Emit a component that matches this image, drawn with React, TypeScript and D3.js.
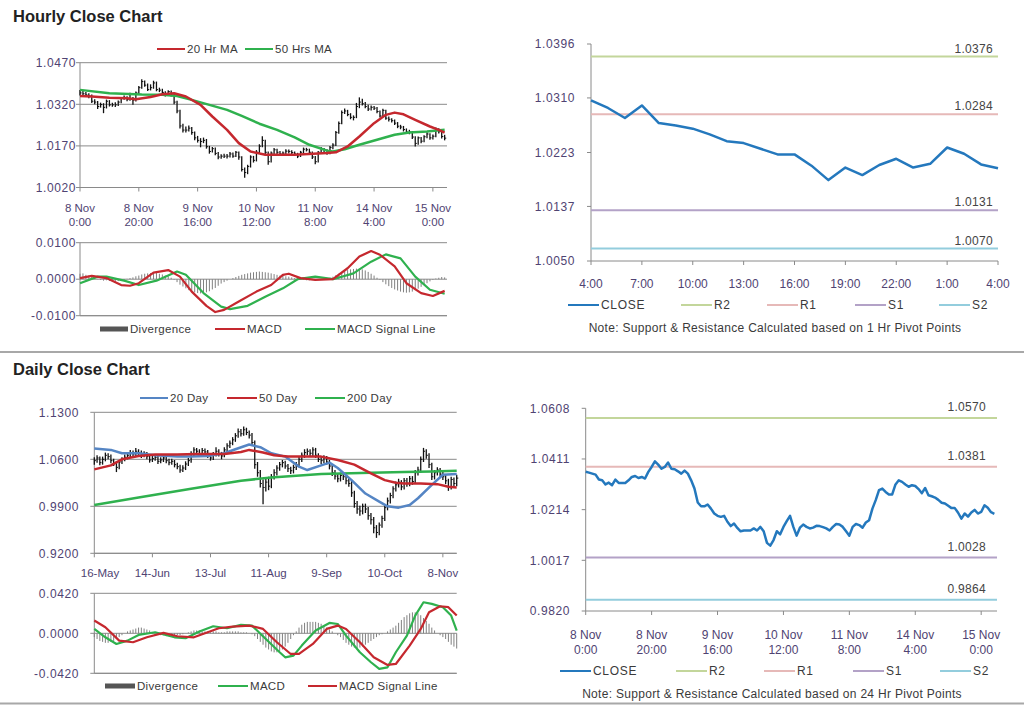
import React from "react";
import * as d3 from "d3";

// ---------------- DATA ----------------
const hourlyClose = [
  1.0361, 1.0358, 1.0354, 1.035, 1.0331, 1.0328, 1.0312, 1.0319, 1.0309, 1.0331,
  1.0318, 1.0318, 1.0318, 1.0328, 1.0341, 1.0345, 1.0337, 1.0341, 1.0335, 1.0361,
  1.038, 1.0402, 1.0389, 1.0373, 1.038, 1.0397, 1.0373, 1.0371, 1.0363, 1.0354,
  1.0366, 1.0354, 1.0328, 1.0296, 1.0242, 1.0227, 1.0227, 1.0234, 1.0218, 1.0199,
  1.019, 1.0186, 1.019, 1.0167, 1.015, 1.016, 1.0143, 1.013, 1.0133, 1.0133,
  1.0133, 1.0141, 1.0133, 1.0147, 1.013, 1.0085, 1.0074, 1.0096, 1.013, 1.0118,
  1.0147, 1.0169, 1.019, 1.0147, 1.0113, 1.0144, 1.0156, 1.0147, 1.0141, 1.0144,
  1.0151, 1.015, 1.0146, 1.0141, 1.0133, 1.0147, 1.0158, 1.0156, 1.0147, 1.013,
  1.0113, 1.0147, 1.0158, 1.0154, 1.0144, 1.0164, 1.0173, 1.0218, 1.0251, 1.029,
  1.0296, 1.0283, 1.0273, 1.0273, 1.0312, 1.0328, 1.0322, 1.0312, 1.0303, 1.0309,
  1.0306, 1.0294, 1.0278, 1.0298, 1.027, 1.0266, 1.0261, 1.0252, 1.0241, 1.0238,
  1.0229, 1.022, 1.022, 1.0202, 1.0179, 1.0199, 1.0187, 1.0203, 1.0213, 1.0199,
  1.0205, 1.0231, 1.0221, 1.0204, 1.0198,
];
const hourlyHigh = [
  1.0372, 1.0368, 1.0364, 1.036, 1.0355, 1.0338, 1.0332, 1.0326, 1.0324, 1.0337,
  1.0335, 1.0326, 1.0327, 1.0334, 1.0346, 1.0352, 1.0349, 1.0362, 1.0346, 1.0366,
  1.0386, 1.041, 1.0406, 1.0395, 1.0392, 1.0405, 1.0402, 1.038, 1.0376, 1.0367,
  1.0371, 1.037, 1.0358, 1.0333, 1.03, 1.025, 1.024, 1.0244, 1.0238, 1.0222,
  1.0206, 1.0198, 1.02, 1.0195, 1.017, 1.0166, 1.0164, 1.0148, 1.014, 1.0142,
  1.0141, 1.0148, 1.0146, 1.0152, 1.015, 1.0133, 1.0092, 1.0102, 1.0136, 1.0134,
  1.0155, 1.0176, 1.0205, 1.0192, 1.015, 1.015, 1.0162, 1.016, 1.0152, 1.015,
  1.0158, 1.0157, 1.0154, 1.015, 1.0145, 1.0152, 1.0164, 1.0163, 1.016, 1.015,
  1.0134, 1.0152, 1.0166, 1.0162, 1.0158, 1.017, 1.018, 1.0224, 1.0258, 1.0298,
  1.0305, 1.03, 1.0288, 1.028, 1.0325, 1.0345, 1.034, 1.0328, 1.0318, 1.0316,
  1.0314, 1.031, 1.0298, 1.0304, 1.03, 1.0276, 1.027, 1.0265, 1.0256, 1.0246,
  1.0242, 1.0233, 1.0228, 1.0224, 1.0205, 1.0204, 1.0202, 1.0208, 1.0219, 1.0216,
  1.0211, 1.0236, 1.0234, 1.0225, 1.021,
];
const hourlyLow = [
  1.0352, 1.035, 1.0347, 1.0342, 1.0325, 1.032, 1.0303, 1.0308, 1.0288, 1.0305,
  1.0312, 1.0311, 1.031, 1.0314, 1.0324, 1.0336, 1.0331, 1.0333, 1.0318, 1.033,
  1.0356, 1.0376, 1.0383, 1.0368, 1.037, 1.0376, 1.0367, 1.0364, 1.0357, 1.0348,
  1.035, 1.0348, 1.032, 1.0288, 1.0233, 1.0218, 1.0218, 1.0222, 1.021, 1.019,
  1.0182, 1.0165, 1.018, 1.016, 1.0142, 1.0146, 1.0136, 1.0122, 1.0124, 1.0126,
  1.0125, 1.0128, 1.0127, 1.013, 1.012, 1.0078, 1.0055, 1.0068, 1.0092, 1.011,
  1.0114, 1.0142, 1.0165, 1.014, 1.0102, 1.011, 1.014, 1.0141, 1.0135, 1.0136,
  1.014, 1.0143, 1.014, 1.0135, 1.0126, 1.013, 1.0144, 1.015, 1.0141, 1.0123,
  1.0104, 1.011, 1.0143, 1.0148, 1.0138, 1.014, 1.0158, 1.017, 1.0214, 1.0248,
  1.0285, 1.0277, 1.0266, 1.0262, 1.027, 1.0306, 1.0316, 1.0306, 1.0296, 1.0298,
  1.0299, 1.0288, 1.0272, 1.0275, 1.0264, 1.0258, 1.0254, 1.0245, 1.0234, 1.023,
  1.0222, 1.0213, 1.0212, 1.0195, 1.0168, 1.0174, 1.018, 1.0183, 1.0198, 1.0192,
  1.0193, 1.0201, 1.0215, 1.0197, 1.019,
];
// [bar index, value]
const hourlyMA20 = [
  [0, 1.035], [4, 1.0348], [10, 1.0344], [16, 1.0342], [19, 1.0338], [24, 1.0346],
  [28, 1.0356], [32, 1.036], [36, 1.0348], [41, 1.0318], [45, 1.0276], [50, 1.0228],
  [54, 1.018], [58, 1.015], [63, 1.0138], [73, 1.0138], [84, 1.0144], [87, 1.0147],
  [91, 1.0168], [95, 1.0204], [100, 1.0252], [104, 1.0282], [107, 1.029], [110, 1.0284],
  [114, 1.0264], [119, 1.024], [122, 1.0228], [124, 1.0218],
];
const hourlyMA50 = [
  [0, 1.0372], [10, 1.036], [21, 1.0355], [28, 1.0354], [33, 1.035], [38, 1.0336],
  [44, 1.0318], [50, 1.03], [55, 1.0278], [61, 1.025], [67, 1.0228], [73, 1.0201],
  [78, 1.0174], [84, 1.0153], [86, 1.015], [90, 1.0158], [95, 1.0174], [101, 1.0192],
  [107, 1.021], [112, 1.0218], [118, 1.0222], [124, 1.0228],
];
const hourlyMACD = [
  [0, 0.0003], [4, 0.0009], [9, 0.0003], [14, -0.0016], [17, -0.0018], [20, -0.0011],
  [25, 0.0018], [30, 0.0025], [34, 0.0007], [38, -0.0034], [43, -0.0073], [46, -0.009],
  [49, -0.0084], [54, -0.0061], [60, -0.0034], [65, -0.0016], [69, 0.0012], [71, 0.0015],
  [75, 0.0003], [80, -0.0002], [86, 0.0], [91, 0.003], [95, 0.0062], [99, 0.0077],
  [102, 0.0067], [107, 0.0035], [111, -0.0011], [116, -0.0038], [120, -0.0046], [124, -0.0032],
];
const hourlySignal = [
  [0, -0.0011], [6, 0.0007], [9, 0.0007], [15, -0.0004], [20, -0.0016], [26, -0.0004],
  [33, 0.0021], [36, 0.0012], [42, -0.0038], [48, -0.0075], [51, -0.0082], [57, -0.0073],
  [63, -0.0048], [69, -0.0025], [74, 0.0], [80, 0.0007], [86, 0.0], [93, 0.0016],
  [99, 0.0048], [104, 0.0068], [109, 0.0057], [114, 0.0007], [119, -0.0029], [124, -0.004],
];
const hourlyDivergence = [
  0.0015, 0.0016, 0.0012, 0.001, 0.0006, 0.0003, 0.0001, -0.0002, -0.0004, -0.0003,
  -0.0005, -0.0006, -0.0007, -0.0005, -0.0003, -0.0002, 0.0001, 0.0003, 0.0005, 0.0008,
  0.001, 0.0013, 0.0015, 0.0016, 0.0017, 0.0018, 0.0017, 0.0015, 0.0013, 0.001,
  0.0008, 0.0004, -0.0002, -0.0008, -0.0015, -0.002, -0.0025, -0.003, -0.0033, -0.0036,
  -0.0038, -0.0039, -0.0038, -0.0036, -0.0033, -0.0028, -0.0024, -0.0018, -0.0012, -0.0008,
  -0.0004, 0.0, 0.0003, 0.0006, 0.0009, 0.0012, 0.0014, 0.0016, 0.0018, 0.0019,
  0.002, 0.0021, 0.002, 0.0019, 0.0018, 0.0016, 0.0014, 0.0012, 0.001, 0.0009,
  0.0008, 0.0007, 0.0005, 0.0003, 0.0001, -0.0001, -0.0002, -0.0003, -0.0003, -0.0002,
  -0.0001, 0.0, 0.0001, 0.0001, 0.0002, 0.0004, 0.0007, 0.0011, 0.0015, 0.0019,
  0.0022, 0.0025, 0.0027, 0.0028, 0.0029, 0.0029, 0.0027, 0.0024, 0.002, 0.0015,
  0.001, 0.0004, -0.0002, -0.0008, -0.0014, -0.0019, -0.0024, -0.0028, -0.0031, -0.0034,
  -0.0036, -0.0037, -0.0036, -0.0034, -0.003, -0.0026, -0.0021, -0.0016, -0.0011, -0.0006,
  -0.0002, 0.0002, 0.0004, 0.0006, 0.0005,
];
const hourlyTickIdx = [0, 20, 40, 60, 80, 100, 120];
const hourlyTickLabels = [
  ["8 Nov", "0:00"], ["8 Nov", "20:00"], ["9 Nov", "16:00"], ["10 Nov", "12:00"],
  ["11 Nov", "8:00"], ["14 Nov", "4:00"], ["15 Nov", "0:00"],
];
const hourlyPriceTicks = [1.002, 1.017, 1.032, 1.047];
const hourlyMacdTicks = [-0.01, 0, 0.01];

// pivot charts
const lastDayStart = 100; // 1 Hr pivot chart shows the last 25 hourly closes
const pivotHourIdx = [0, 3, 6, 9, 12, 15, 18, 21, 24];
const pivotHourLabels = ["4:00", "7:00", "10:00", "13:00", "16:00", "19:00", "22:00", "1:00", "4:00"];
const pivotHourTicks = [1.005, 1.0137, 1.0223, 1.031, 1.0396];
const pivotDayTicks = [0.982, 1.0017, 1.0214, 1.0411, 1.0608];
const levelNames = ["R2", "R1", "S1", "S2"];
const hourlyLevels = [1.0376, 1.0284, 1.0131, 1.007];
const dailyLevels = [1.057, 1.0381, 1.0028, 0.9864];

// daily
const dailyClose = [
  1.058, 1.062, 1.055, 1.06, 1.066, 1.064, 1.058, 1.054, 1.048, 1.056,
  1.06, 1.063, 1.066, 1.07, 1.068, 1.072, 1.07, 1.066, 1.069, 1.064,
  1.059, 1.061, 1.063, 1.057, 1.059, 1.062, 1.058, 1.055, 1.057, 1.052,
  1.049, 1.044, 1.047, 1.053, 1.058, 1.068, 1.074, 1.072, 1.068, 1.073,
  1.071, 1.066, 1.062, 1.067, 1.072, 1.068, 1.065, 1.074, 1.08, 1.084,
  1.089, 1.095, 1.101, 1.098, 1.104, 1.1, 1.096, 1.085, 1.052, 1.04,
  1.024, 1.018, 1.026, 1.02, 1.034, 1.04, 1.047, 1.052, 1.055, 1.05,
  1.046, 1.043, 1.048, 1.052, 1.06, 1.066, 1.07, 1.072, 1.069, 1.074,
  1.066, 1.06, 1.058, 1.062, 1.056, 1.05, 1.04, 1.035, 1.031, 1.036,
  1.034, 1.028, 1.024, 1.01, 0.994, 0.986, 0.983, 0.99, 0.986, 0.976,
  0.97, 0.958, 0.951, 0.962, 0.972, 0.988, 0.998, 1.006, 1.016, 1.022,
  1.026, 1.019, 1.028, 1.024, 1.031, 1.027, 1.04, 1.044, 1.06, 1.072,
  1.066, 1.052, 1.034, 1.04, 1.044, 1.038, 1.034, 1.028, 1.019, 1.03,
  1.024, 1.032,
];
const dailyHigh = [
  1.063, 1.066, 1.064, 1.064, 1.07, 1.069, 1.067, 1.061, 1.057, 1.059,
  1.063, 1.067, 1.07, 1.074, 1.073, 1.077, 1.075, 1.073, 1.072, 1.071,
  1.067, 1.065, 1.067, 1.066, 1.063, 1.066, 1.065, 1.061, 1.061, 1.059,
  1.055, 1.052, 1.051, 1.057, 1.062, 1.072, 1.078, 1.077, 1.075, 1.077,
  1.076, 1.074, 1.069, 1.071, 1.078, 1.075, 1.071, 1.078, 1.084, 1.088,
  1.093, 1.099, 1.106, 1.105, 1.109, 1.107, 1.103, 1.099, 1.088, 1.056,
  1.044, 1.03, 1.031, 1.034, 1.038, 1.045, 1.051, 1.056, 1.059, 1.058,
  1.053, 1.049, 1.052, 1.056, 1.064, 1.07, 1.075, 1.076, 1.075, 1.078,
  1.077, 1.069, 1.064, 1.066, 1.065, 1.059, 1.053, 1.044, 1.039, 1.04,
  1.04, 1.037, 1.032, 1.028, 1.013, 0.998, 0.991, 0.994, 0.994, 0.989,
  0.98, 0.974, 0.962, 0.966, 0.976, 0.992, 1.003, 1.01, 1.02, 1.027,
  1.031, 1.029, 1.032, 1.032, 1.035, 1.035, 1.044, 1.049, 1.064, 1.077,
  1.075, 1.069, 1.055, 1.044, 1.048, 1.047, 1.042, 1.037, 1.031, 1.034,
  1.033, 1.037,
];
const dailyLow = [
  1.052, 1.055, 1.051, 1.052, 1.057, 1.06, 1.054, 1.05, 1.041, 1.045,
  1.053, 1.057, 1.06, 1.063, 1.064, 1.065, 1.066, 1.062, 1.063, 1.06,
  1.055, 1.056, 1.058, 1.053, 1.054, 1.056, 1.054, 1.051, 1.052, 1.048,
  1.045, 1.04, 1.041, 1.044, 1.05, 1.055, 1.065, 1.068, 1.064, 1.065,
  1.067, 1.062, 1.058, 1.059, 1.064, 1.064, 1.06, 1.063, 1.071, 1.077,
  1.081, 1.086, 1.092, 1.094, 1.095, 1.096, 1.091, 1.08, 1.046, 1.034,
  1.018, 0.993, 1.012, 1.014, 1.017, 1.03, 1.036, 1.043, 1.048, 1.046,
  1.041, 1.038, 1.039, 1.044, 1.049, 1.056, 1.062, 1.066, 1.065, 1.065,
  1.062, 1.056, 1.053, 1.054, 1.052, 1.045, 1.035, 1.03, 1.026, 1.027,
  1.029, 1.023, 1.019, 1.004, 0.988, 0.979, 0.976, 0.978, 0.98, 0.97,
  0.963, 0.95, 0.943, 0.947, 0.958, 0.968, 0.984, 0.994, 1.002, 1.012,
  1.018, 1.014, 1.015, 1.019, 1.02, 1.022, 1.024, 1.036, 1.04, 1.056,
  1.061, 1.047, 1.029, 1.03, 1.036, 1.034, 1.029, 1.023, 1.013, 1.015,
  1.019, 1.02,
];
const dailyMA20 = [
  [0, 1.076], [6, 1.074], [10, 1.069], [16, 1.069], [22, 1.066], [30, 1.064], [35, 1.064],
  [41, 1.065], [47, 1.069], [51, 1.075], [56, 1.082], [60, 1.078], [64, 1.069], [69, 1.064],
  [74, 1.049], [77, 1.044], [82, 1.051], [85, 1.055], [88, 1.047], [93, 1.029], [98, 1.009],
  [103, 0.997], [106, 0.99], [110, 0.988], [114, 0.992], [117, 1.002], [122, 1.022],
  [126, 1.037], [131, 1.038],
];
const dailyMA50 = [
  [0, 1.045], [6, 1.051], [10, 1.06], [16, 1.065], [22, 1.067], [30, 1.067], [37, 1.068],
  [47, 1.068], [53, 1.071], [56, 1.074], [61, 1.07], [65, 1.066], [70, 1.064], [76, 1.064],
  [82, 1.064], [88, 1.059], [94, 1.052], [100, 1.039], [105, 1.029], [109, 1.025],
  [112, 1.024], [118, 1.024], [124, 1.023], [128, 1.019], [131, 1.018],
];
const dailyMA200 = [
  [0, 0.992], [16, 1.003], [35, 1.016], [53, 1.028], [64, 1.033], [82, 1.038],
  [100, 1.04], [112, 1.041], [122, 1.042], [131, 1.043],
];
const dailyMACD = [
  [0, 0.0046], [4, -0.0042], [8, -0.0112], [12, -0.0077], [16, -0.0017], [22, 0.0011],
  [29, -0.0042], [33, -0.0052], [38, 0.0018], [43, 0.0074], [48, 0.0053], [53, 0.0088],
  [57, 0.0081], [62, -0.0059], [67, -0.0199], [69, -0.0252], [72, -0.0234], [75, -0.0129],
  [80, 0.0029], [85, 0.0109], [88, 0.0098], [91, -0.0024], [96, -0.0199], [100, -0.0304],
  [103, -0.0374], [106, -0.0357], [109, -0.0199], [113, -0.0024], [116, 0.0186],
  [119, 0.0326], [122, 0.0309], [126, 0.0274], [129, 0.0186], [131, 0.0029],
];
const dailySignal = [
  [0, 0.0134], [4, 0.0064], [9, -0.0077], [14, -0.0094], [19, -0.0042], [25, 0.0004],
  [30, -0.0031], [36, -0.0042], [41, 0.0011], [45, 0.0053], [50, 0.007], [56, 0.0081],
  [61, 0.0046], [66, -0.0094], [71, -0.0217], [74, -0.0217], [79, -0.0112], [84, 0.0046],
  [88, 0.0081], [91, 0.0046], [96, -0.0094], [101, -0.0252], [106, -0.0332], [109, -0.0322],
  [114, -0.0129], [118, 0.0046], [121, 0.0221], [125, 0.0284], [128, 0.0274], [131, 0.0186],
];
const dailyDivergence = [
  -0.004, -0.006, -0.008, -0.009, -0.01, -0.01, -0.009, -0.008, -0.006, -0.004,
  -0.002, 0.0, 0.002, 0.003, 0.004, 0.005, 0.006, 0.006, 0.005, 0.004,
  0.003, 0.001, 0.0, -0.001, -0.002, -0.002, -0.003, -0.003, -0.002, -0.002,
  -0.002, -0.002, -0.001, 0.0, 0.001, 0.002, 0.003, 0.003, 0.003, 0.002,
  0.002, 0.002, 0.001, 0.002, 0.002, 0.001, 0.001, 0.001, 0.002, 0.002,
  0.002, 0.002, 0.002, 0.001, 0.001, 0.001, 0.0, -0.001, -0.003, -0.006,
  -0.009, -0.012, -0.015, -0.017, -0.019, -0.02, -0.02, -0.019, -0.017, -0.014,
  -0.01, -0.006, -0.002, 0.002, 0.006, 0.009, 0.011, 0.012, 0.012, 0.012,
  0.012, 0.011, 0.01, 0.008, 0.006, 0.004, 0.002, 0.0, -0.002, -0.004,
  -0.007, -0.01, -0.012, -0.014, -0.015, -0.016, -0.015, -0.014, -0.012, -0.01,
  -0.008, -0.006, -0.004, -0.002, -0.001, 0.0, 0.002, 0.004, 0.006, 0.008,
  0.011, 0.014, 0.017, 0.019, 0.021, 0.022, 0.022, 0.021, 0.019, 0.016,
  0.013, 0.01, 0.006, 0.003, 0.0, -0.002, -0.004, -0.006, -0.009, -0.012,
  -0.014, -0.016,
];
const dailyTickIdx = [0, 21, 42, 63, 84, 105, 126];
const dailyTickLabels = ["16-May", "14-Jun", "13-Jul", "11-Aug", "9-Sep", "10-Oct", "8-Nov"];
const dailyPriceTicks = [0.92, 0.99, 1.06, 1.13];
const dailyMacdTicks = [-0.042, 0, 0.042];

// ---------------- STYLE ----------------
const FONT = "'Liberation Sans', Arial, Helvetica, sans-serif";
const AXIS = "#8a8a8a";
const TICK_TXT = "#4f4372";
const TXT = "#3a3a3a";
const RED = "#c5282e";
const GREEN = "#2fb14e";
const BLUE_MA = "#5585c4";
const CLOSE_BLUE = "#2478bd";
const HIST = "#808080";
const LEVEL_COLORS = ["#c3d69b", "#e6b9b8", "#b3a2c7", "#93cddd"];

type Pt = number[];
type Scale = d3.ScaleLinear<number, number>;

const mkLine = (pts: Pt[], x: Scale, y: Scale) =>
  d3.line<Pt>().x((d) => x(d[0])).y((d) => y(d[1]))(pts) || "";

function YAxis({ x, y, ticks, xEnd, grid, labelRight, fmt }: any) {
  const [y0, y1] = y.range();
  return (
    <g>
      {grid &&
        ticks.map((t: number, i: number) => (
          <line key={"g" + i} x1={x} x2={xEnd} y1={y(t)} y2={y(t)} stroke={AXIS} strokeWidth={1} />
        ))}
      <line x1={x} x2={x} y1={y0} y2={y1} stroke={AXIS} strokeWidth={1} />
      {ticks.map((t: number, i: number) => (
        <g key={i}>
          <line x1={x - 4} x2={x} y1={y(t)} y2={y(t)} stroke={AXIS} />
          <text x={labelRight} y={y(t)} dy="0.35em" textAnchor="end" fontSize={12} fill={TICK_TXT} letterSpacing={0.6}>
            {fmt(t)}
          </text>
        </g>
      ))}
    </g>
  );
}

function XBase({ y0, xs, idx, tick = true }: any) {
  const [a, b] = xs.range();
  return (
    <g>
      <line x1={a} x2={b} y1={y0} y2={y0} stroke={AXIS} />
      {tick && idx.map((t: number, i: number) => (
        <line key={i} x1={xs(t)} x2={xs(t)} y1={y0} y2={y0 + 4} stroke={AXIS} />
      ))}
    </g>
  );
}

function Legend({ items, y, size = 11.5, spacing = 0.3 }: any) {
  return (
    <g>
      {items.map((it: any, i: number) => (
        <g key={i}>
          {it.swatch ? (
            <rect x={it.x1} y={y - 2.5} width={it.x2 - it.x1} height={5} fill="#555" />
          ) : (
            <line x1={it.x1} x2={it.x2} y1={y} y2={y} stroke={it.color} strokeWidth={2} />
          )}
          <text x={it.x2 + 2} y={y} dy="0.35em" fontSize={size} fill={TXT} letterSpacing={spacing}>
            {it.label}
          </text>
        </g>
      ))}
    </g>
  );
}

function Bars({ high, low, close, xs, ys }: any) {
  return (
    <g>
      {close.map((c: number, i: number) => (
        <g key={i}>
          <line x1={xs(i)} x2={xs(i)} y1={ys(high[i])} y2={ys(low[i])} stroke="#111" strokeWidth={1.3} />
          <line x1={xs(i)} x2={xs(i) + 1.6} y1={ys(c)} y2={ys(c)} stroke="#111" strokeWidth={1} />
        </g>
      ))}
    </g>
  );
}

function Histogram({ vals, xs, ys }: any) {
  return (
    <g>
      {vals.map((v: number, i: number) => (
        <line key={i} x1={xs(i)} x2={xs(i)} y1={ys(0)} y2={ys(v)} stroke={HIST} strokeWidth={1} />
      ))}
    </g>
  );
}

function PivotChart({ closes, xs, ys, ticks, levels, labelRight, levelLabelRight, levelOffset, tickIdx, xLabels, lineLabelY, legendY, noteY, note, legendX, noteX }: any) {
  const [x0, x1] = xs.range();
  const [yb] = ys.range();
  return (
    <g>
      <YAxis x={x0} y={ys} ticks={ticks} xEnd={x1} grid={false} labelRight={labelRight} fmt={(v: number) => v.toFixed(4)} />
      <XBase xs={xs} y0={yb} idx={tickIdx} />
      {levels.map((v: number, i: number) => (
        <g key={i}>
          <line x1={x0} x2={x1} y1={ys(v)} y2={ys(v)} stroke={LEVEL_COLORS[i]} strokeWidth={2} />
          <text x={levelLabelRight} y={ys(v) - levelOffset} dy="0.35em" textAnchor="end" fontSize={12} fill="#444" letterSpacing={0.3}>
            {v.toFixed(4)}
          </text>
        </g>
      ))}
      <path d={mkLine(closes.map((v: number, i: number) => [i, v]), xs, ys)} fill="none" stroke={CLOSE_BLUE} strokeWidth={2.5} strokeLinejoin="round" />
      {tickIdx.map((t: number, i: number) => {
        const lab = xLabels[i];
        const lines = Array.isArray(lab) ? lab : [lab];
        return (
          <g key={i}>
            {lines.map((s: string, j: number) => (
              <text key={j} x={xs(t)} y={lineLabelY + j * 15} dy="0.35em" textAnchor="middle" fontSize={12} fill={TICK_TXT}>
                {s}
              </text>
            ))}
          </g>
        );
      })}
      <Legend
        y={legendY}
        size={12}
        spacing={0.7}
        items={[
          { x1: legendX[0], x2: legendX[0] + 31, color: CLOSE_BLUE, label: "CLOSE" },
          ...levelNames.map((n, i) => ({ x1: legendX[i + 1], x2: legendX[i + 1] + 31, color: LEVEL_COLORS[i], label: n })),
        ]}
      />
      <text x={noteX} y={noteY} dy="0.35em" textAnchor="middle" fontSize={12} fill={TXT} letterSpacing={0.3}>
        {note}
      </text>
    </g>
  );
}

export default function App() {
  // Panel A : hourly price
  const xA = d3.scaleLinear().domain([0, 124.8]).range([80, 447]);
  const yA = d3.scaleLinear().domain([1.002, 1.047]).range([187.5, 62.7]);
  // Panel B : hourly MACD
  const yB = d3.scaleLinear().domain([-0.01, 0.01]).range([315.7, 242.7]);
  // Panel C : 1 hr pivot
  const xC = d3.scaleLinear().domain([0, 24]).range([591, 998]);
  const yC = d3.scaleLinear().domain([1.005, 1.0396]).range([261, 44]);
  // Panel D : daily price
  const xD = d3.scaleLinear().domain([0, 131]).range([94.3, 456.7]);
  const yD = d3.scaleLinear().domain([0.92, 1.13]).range([553.3, 412.3]);
  // Panel E : daily MACD
  const yE = d3.scaleLinear().domain([-0.042, 0.042]).range([673.3, 593.3]);
  // Panel F : 24 hr pivot
  const xF = d3.scaleLinear().domain([0, 124.8]).range([585.7, 997]);
  const yF = d3.scaleLinear().domain([0.982, 1.0608]).range([611, 408.3]);

  const f4 = (v: number) => v.toFixed(4);

  return (
    <svg width={1024} height={706} style={{ position: "absolute", left: 0, top: 0, background: "#fff" }} fontFamily={FONT}>
      <rect x={0} y={0} width={1024} height={706} fill="#fff" />
      {/* titles */}
      <text x={13} y={22} fontSize={16.5} fontWeight="bold" fill="#222">Hourly Close Chart</text>
      <text x={13} y={375} fontSize={16.5} fontWeight="bold" fill="#222">Daily Close Chart</text>
      <line x1={0} x2={1024} y1={352} y2={352} stroke="#a8a8a8" strokeWidth={2} />
      <line x1={0} x2={1024} y1={703.5} y2={703.5} stroke="#a8a8a8" strokeWidth={2} />

      {/* ---- Panel A ---- */}
      <Legend y={49} items={[
        { x1: 157, x2: 185, color: RED, label: "20 Hr MA" },
        { x1: 245, x2: 273, color: GREEN, label: "50 Hrs MA" },
      ]} />
      <YAxis x={80} y={yA} ticks={hourlyPriceTicks} xEnd={447} grid labelRight={76} fmt={f4} />
      <XBase xs={xA} y0={yA(1.002)} idx={hourlyTickIdx} />
      {hourlyTickIdx.map((t, i) => (
        <g key={i}>
          <text x={xA(t)} y={208} dy="0.35em" textAnchor="middle" fontSize={11.5} fill={TICK_TXT}>{hourlyTickLabels[i][0]}</text>
          <text x={xA(t)} y={222} dy="0.35em" textAnchor="middle" fontSize={11.5} fill={TICK_TXT}>{hourlyTickLabels[i][1]}</text>
        </g>
      ))}
      <Bars high={hourlyHigh} low={hourlyLow} close={hourlyClose} xs={xA} ys={yA} />
      <path d={mkLine(hourlyMA50, xA, yA)} fill="none" stroke={GREEN} strokeWidth={2.5} strokeLinejoin="round" />
      <path d={mkLine(hourlyMA20, xA, yA)} fill="none" stroke={RED} strokeWidth={2.5} strokeLinejoin="round" />

      {/* ---- Panel B ---- */}
      <YAxis x={80} y={yB} ticks={hourlyMacdTicks} xEnd={447} grid labelRight={76} fmt={f4} />
      <XBase xs={xA} y0={yB(-0.01)} idx={[]} tick={false} />
      <Histogram vals={hourlyDivergence} xs={xA} ys={yB} />
      <path d={mkLine(hourlySignal, xA, yB)} fill="none" stroke={GREEN} strokeWidth={2.2} strokeLinejoin="round" />
      <path d={mkLine(hourlyMACD, xA, yB)} fill="none" stroke={RED} strokeWidth={2.2} strokeLinejoin="round" />
      <Legend y={329} items={[
        { x1: 100, x2: 128, swatch: true, label: "Divergence" },
        { x1: 215, x2: 245, color: RED, label: "MACD" },
        { x1: 305, x2: 335, color: GREEN, label: "MACD Signal Line" },
      ]} />

      {/* ---- Panel C ---- */}
      <PivotChart
        closes={hourlyClose.slice(lastDayStart)}
        xs={xC} ys={yC} ticks={pivotHourTicks} levels={hourlyLevels}
        labelRight={575} levelLabelRight={993} levelOffset={8}
        tickIdx={pivotHourIdx} xLabels={pivotHourLabels} lineLabelY={284}
        legendY={305} noteY={328} noteX={775} legendX={[568, 681, 767, 855, 939]}
        note="Note: Support & Resistance Calculated based on 1 Hr Pivot Points"
      />

      {/* ---- Panel D ---- */}
      <Legend y={398} items={[
        { x1: 140, x2: 168, color: BLUE_MA, label: "20 Day" },
        { x1: 227, x2: 257, color: RED, label: "50 Day" },
        { x1: 315, x2: 345, color: GREEN, label: "200 Day" },
      ]} />
      <YAxis x={94.3} y={yD} ticks={dailyPriceTicks} xEnd={456.7} grid labelRight={79} fmt={f4} />
      <XBase xs={xD} y0={yD(0.92)} idx={dailyTickIdx} />
      {dailyTickIdx.map((t, i) => (
        <text key={i} x={Math.max(xD(t), 100)} y={573} dy="0.35em" textAnchor="middle" fontSize={11.5} fill={TICK_TXT}>{dailyTickLabels[i]}</text>
      ))}
      <Bars high={dailyHigh} low={dailyLow} close={dailyClose} xs={xD} ys={yD} />
      <path d={mkLine(dailyMA200, xD, yD)} fill="none" stroke={GREEN} strokeWidth={2.5} strokeLinejoin="round" />
      <path d={mkLine(dailyMA20, xD, yD)} fill="none" stroke={BLUE_MA} strokeWidth={2.5} strokeLinejoin="round" />
      <path d={mkLine(dailyMA50, xD, yD)} fill="none" stroke={RED} strokeWidth={2.5} strokeLinejoin="round" />

      {/* ---- Panel E ---- */}
      <YAxis x={94.3} y={yE} ticks={dailyMacdTicks} xEnd={456.7} grid labelRight={79} fmt={f4} />
      <XBase xs={xD} y0={yE(-0.042)} idx={[]} tick={false} />
      <Histogram vals={dailyDivergence} xs={xD} ys={yE} />
      <path d={mkLine(dailyMACD, xD, yE)} fill="none" stroke={GREEN} strokeWidth={2.2} strokeLinejoin="round" />
      <path d={mkLine(dailySignal, xD, yE)} fill="none" stroke={RED} strokeWidth={2.2} strokeLinejoin="round" />
      <Legend y={686} items={[
        { x1: 105, x2: 135, swatch: true, label: "Divergence" },
        { x1: 218, x2: 248, color: GREEN, label: "MACD" },
        { x1: 308, x2: 337, color: RED, label: "MACD Signal Line" },
      ]} />

      {/* ---- Panel F ---- */}
      <PivotChart
        closes={hourlyClose}
        xs={xF} ys={yF} ticks={pivotDayTicks} levels={dailyLevels}
        labelRight={570} levelLabelRight={986} levelOffset={11}
        tickIdx={hourlyTickIdx} xLabels={hourlyTickLabels} lineLabelY={635}
        legendY={671} noteY={694} noteX={772} legendX={[560, 676, 764, 853, 940]}
        note="Note: Support & Resistance Calculated based on 24 Hr Pivot Points"
      />
    </svg>
  );
}
